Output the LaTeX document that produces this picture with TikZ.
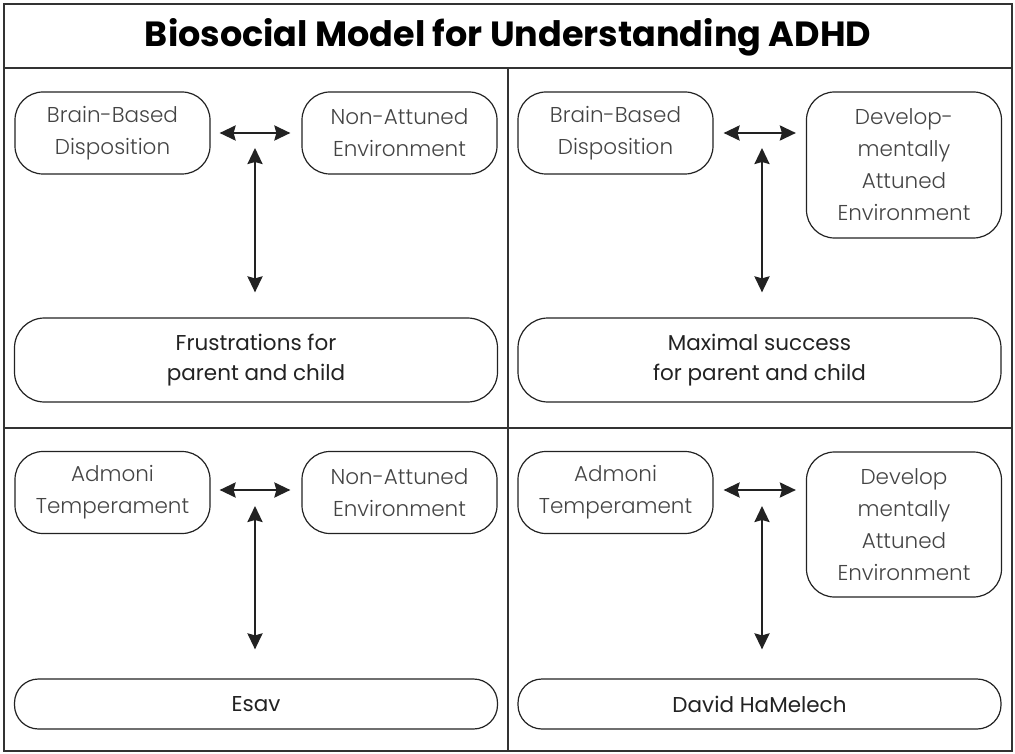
\documentclass[tikz,border=0pt]{standalone}
\usepackage{fontspec}
\setmainfont{Poppins}
\newfontfamily\lightfont{Poppins Light}
\usetikzlibrary{arrows.meta}
\definecolor{r51g51b51}{rgb}{0.200000,0.200000,0.200000}
\definecolor{r34g34b34}{rgb}{0.133333,0.133333,0.133333}
\definecolor{r68g68b68}{rgb}{0.266667,0.266667,0.266667}
\tikzset{
  smallbox/.style={draw=r34g34b34, line width=1.2pt, rounded corners=28pt, minimum width=195pt, minimum height=82pt, inner sep=0pt, align=center, text=r68g68b68, font=\lightfont\fontsize{21.5}{32}\selectfont},
  widebox/.style={draw=r34g34b34, line width=1.2pt, rounded corners=30pt, minimum width=483pt, minimum height=84pt, inner sep=0pt, align=center, text=r34g34b34, font=\fontsize{21.5}{30}\selectfont},
  twoway/.style={{Stealth[length=16pt,width=15pt,inset=2pt]}-{Stealth[length=16pt,width=15pt,inset=2pt]}, line width=2.4pt, draw=r34g34b34},
  frameline/.style={line width=2pt, draw=r51g51b51}
}
\begin{document}
\begin{tikzpicture}[x=1pt,y=-1pt]
                    \useasboundingbox (0,0) rectangle (1015,754);

                    % Drawing frame
                    \draw [frameline] (4,4) rectangle (1012,751);%
                    \draw [frameline] (4,68) -- (1012,68);%
                    \draw [frameline] (4,428) -- (1012,428);%
                    \draw [frameline] (508,68) -- (508,751);%

                    % Marking title
                    \node (title) at (508,37) {\fontsize{35}{40}\selectfont\bfseries Biosocial Model for Understanding ADHD};%

                    % Drawing quadrant top left
                    \node [smallbox] (brainL) at (112.5,133) {Brain-Based\\Disposition};%
                    \node [smallbox] (nonattL) at (399.5,133) {Non-Attuned\\Environment};%
                    \node [widebox] (frustr) at (256,360) {Frustrations for\\parent and child};%
                    \coordinate (tlTop) at (255,148);%
                    \draw [twoway, shorten <=9pt, shorten >=11pt] (brainL.east) -- (nonattL.west);%
                    \draw [twoway, shorten >=25pt] (tlTop) -- (tlTop |- frustr.north);%

                    % Drawing quadrant top right
                    \node [smallbox] (brainR) at (615.5,133) {Brain-Based\\Disposition};%
                    \node [smallbox, minimum height=146pt] (devR) at (904,165) {Develop-\\mentally\\Attuned\\Environment};%
                    \node [widebox] (maxsucc) at (759.5,360) {Maximal success\\for parent and child};%
                    \coordinate (trTop) at (762,148);%
                    \draw [twoway, shorten <=10pt, shorten >=10pt] (brainR.east) -- (devR.west |- brainR.east);%
                    \draw [twoway, shorten >=25pt] (trTop) -- (trTop |- maxsucc.north);%

                    % Drawing quadrant bottom left
                    \node [smallbox] (admoniL) at (112.5,492.5) {Admoni\\Temperament};%
                    \node [smallbox] (nonattB) at (399.5,492.5) {Non-Attuned\\Environment};%
                    \node [widebox, minimum height=50pt, rounded corners=24pt] (esav) at (256,704) {Esav};%
                    \coordinate (blTop) at (255,506);%
                    \draw [twoway, shorten <=9pt, shorten >=11pt] (admoniL.east |- 0,490) -- (nonattB.west |- 0,490);%
                    \draw [twoway, shorten >=29pt] (blTop) -- (blTop |- esav.north);%

                    % Drawing quadrant bottom right
                    \node [smallbox] (admoniR) at (615.5,492.5) {Admoni\\Temperament};%
                    \node [smallbox, minimum height=145pt] (devB) at (904,524.5) {Develop\\mentally\\Attuned\\Environment};%
                    \node [widebox, minimum height=50pt, rounded corners=24pt] (david) at (759.5,704) {David HaMelech};%
                    \coordinate (brTop) at (762,506);%
                    \draw [twoway, shorten <=10pt, shorten >=10pt] (admoniR.east |- 0,490) -- (devB.west |- 0,490);%
                    \draw [twoway, shorten >=29pt] (brTop) -- (brTop |- david.north);%
\end{tikzpicture}
\end{document}
